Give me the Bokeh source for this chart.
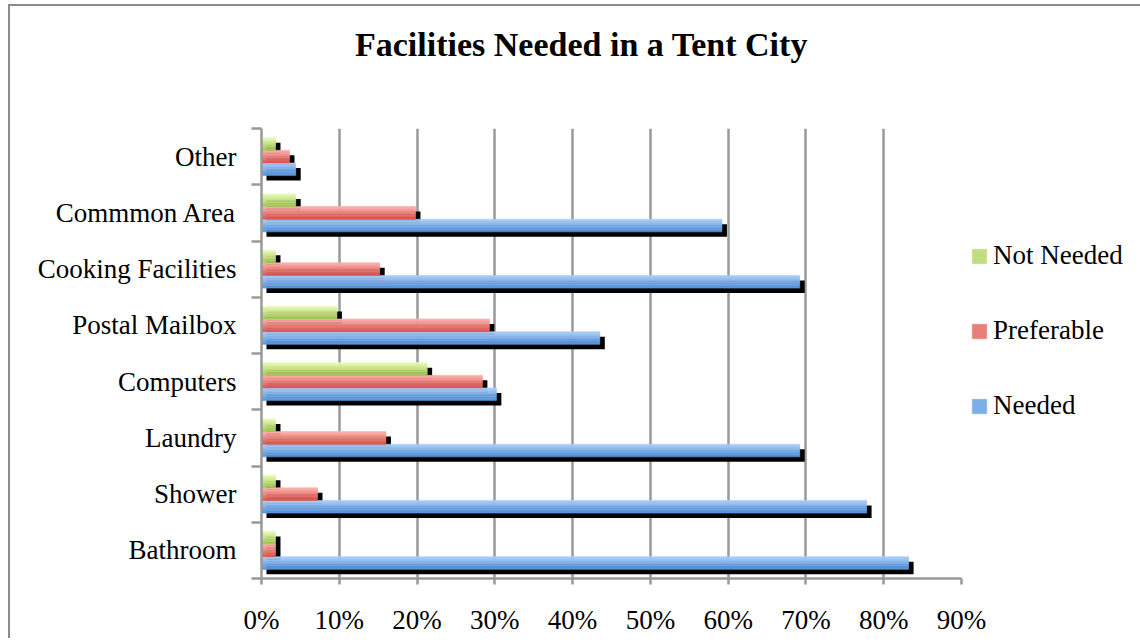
import numpy as np
from bokeh.plotting import figure
from bokeh.layouts import column
from bokeh.models import (Range1d, FixedTicker, PrintfTickFormatter, CustomJSTickFormatter,
                          Legend, LegendItem, Div)
from bokeh.embed import file_html
from bokeh.resources import INLINE

# ---------------- data ----------------
categories = ["Bathroom", "Shower", "Laundry", "Computers", "Postal Mailbox",
              "Cooking Facilities", "Commmon Area", "Other"]
needed = [83.2, 77.8, 69.2, 30.2, 43.5, 69.2, 59.2, 4.4]
preferable = [1.8, 7.2, 16.0, 28.4, 29.3, 15.2, 19.8, 3.6]
not_needed = [1.8, 1.8, 1.8, 21.3, 9.7, 1.8, 4.4, 1.8]
x_ticks = [0, 10, 20, 30, 40, 50, 60, 70, 80, 90]
title_text = "Facilities Needed in a Tent City"

# ---------------- style ----------------
SERIF = "Liberation Serif"
GRID = "#999999"
BAR_H = 0.225
SHADOW_DX = 0.64   # ~5px in x units
SHADOW_DY = 0.089  # ~5px in y units
N_STRIPS = 8

title_div = Div(text=title_text, width=1128, height=70,
                styles={"font-family": SERIF, "font-size": "34px", "font-weight": "bold",
                        "color": "black", "padding-left": "340px", "padding-top": "10px",
                        "box-sizing": "border-box", "white-space": "nowrap",
                        "background-color": "white"})

p = figure(frame_width=700, frame_height=450,
           min_border_left=251, min_border_right=177,
           min_border_top=42, min_border_bottom=60,
           x_range=Range1d(0, 90), y_range=Range1d(0, len(categories)),
           output_backend="svg", toolbar_location=None, title=None)
p.outline_line_color = None
p.background_fill_color = "white"
p.border_fill_color = "white"

# x axis
p.xaxis.ticker = FixedTicker(ticks=x_ticks)
p.xaxis.formatter = PrintfTickFormatter(format="%d%%")
p.xaxis.axis_line_color = GRID
p.xaxis.axis_line_width = 2.5
p.xaxis.major_tick_line_color = GRID
p.xaxis.major_tick_line_width = 2.5
p.xaxis.major_tick_out = 6
p.xaxis.major_tick_in = 0
p.xaxis.minor_tick_line_color = None
p.xaxis.major_label_standoff = 20
p.xaxis.major_label_text_font = SERIF
p.xaxis.major_label_text_font_size = "27px"
p.xaxis.major_label_text_color = "black"

# y axis: labels at category centres, tick marks at category boundaries
base = np.arange(len(categories)) + 0.5
p.yaxis.ticker = FixedTicker(ticks=list(base), minor_ticks=list(range(len(categories) + 1)))
p.yaxis.formatter = CustomJSTickFormatter(args=dict(labels=categories),
                                          code="return labels[Math.floor(tick)]")
p.yaxis.axis_line_color = GRID
p.yaxis.axis_line_width = 2.5
p.yaxis.major_tick_line_color = None
p.yaxis.major_tick_out = 0
p.yaxis.major_tick_in = 0
p.yaxis.minor_tick_line_color = GRID
p.yaxis.minor_tick_line_width = 2.5
p.yaxis.minor_tick_out = 10
p.yaxis.minor_tick_in = 0
p.yaxis.major_label_standoff = 15
p.yaxis.major_label_text_font = SERIF
p.yaxis.major_label_text_font_size = "27px"
p.yaxis.major_label_text_color = "black"

p.xgrid.ticker = FixedTicker(ticks=x_ticks)
p.xgrid.grid_line_color = GRID
p.xgrid.grid_line_width = 2.5
p.ygrid.visible = False


def mix(c1, c2, t):
    a = [int(c1[i:i + 2], 16) for i in (1, 3, 5)]
    b = [int(c2[i:i + 2], 16) for i in (1, 3, 5)]
    return "#%02x%02x%02x" % tuple(int(round(a[j] + (b[j] - a[j]) * t)) for j in range(3))


series = [
    ("Needed", needed, -BAR_H, "#aacdf8", "#5a97dc"),
    ("Preferable", preferable, 0.0, "#fcaeaa", "#dc5c55"),
    ("Not Needed", not_needed, BAR_H, "#e6f9b4", "#a6ca58"),
]

# shadows first
for name, vals, off, ctop, cbot in series:
    v = np.array(vals)
    p.hbar(y=base + off - SHADOW_DY, left=SHADOW_DX, right=v + SHADOW_DX,
           height=BAR_H, fill_color="black", line_color=None)

legend_r = {}
for name, vals, off, ctop, cbot in series:
    v = np.array(vals)
    for k in range(N_STRIPS):
        c = mix(ctop, cbot, k / (N_STRIPS - 1))
        y = base + off + BAR_H / 2 - (k + 0.5) * BAR_H / N_STRIPS
        r = p.hbar(y=y, left=0, right=v, height=BAR_H / N_STRIPS,
                   fill_color=c, line_color=c, line_width=0.6)
        if k == N_STRIPS // 2:
            legend_r[name] = r

legend = Legend(items=[LegendItem(label=n, renderers=[legend_r[n]])
                       for n in ["Not Needed", "Preferable", "Needed"]],
                location=(9, 157), padding=6, spacing=44, label_height=30,
                glyph_height=18, glyph_width=18, label_standoff=5, margin=0,
                label_text_font=SERIF, label_text_font_size="27px",
                label_text_color="black",
                border_line_color=None, background_fill_alpha=0.0)
p.add_layout(legend, "right")

layout = column(title_div, p, spacing=0,
                styles={"border-top": "2px solid #8c8c8c", "border-left": "2px solid #8c8c8c",
                        "margin-left": "8px", "margin-top": "4px",
                        "background-color": "white"})

open("out.html", "w").write(file_html(layout, INLINE))
